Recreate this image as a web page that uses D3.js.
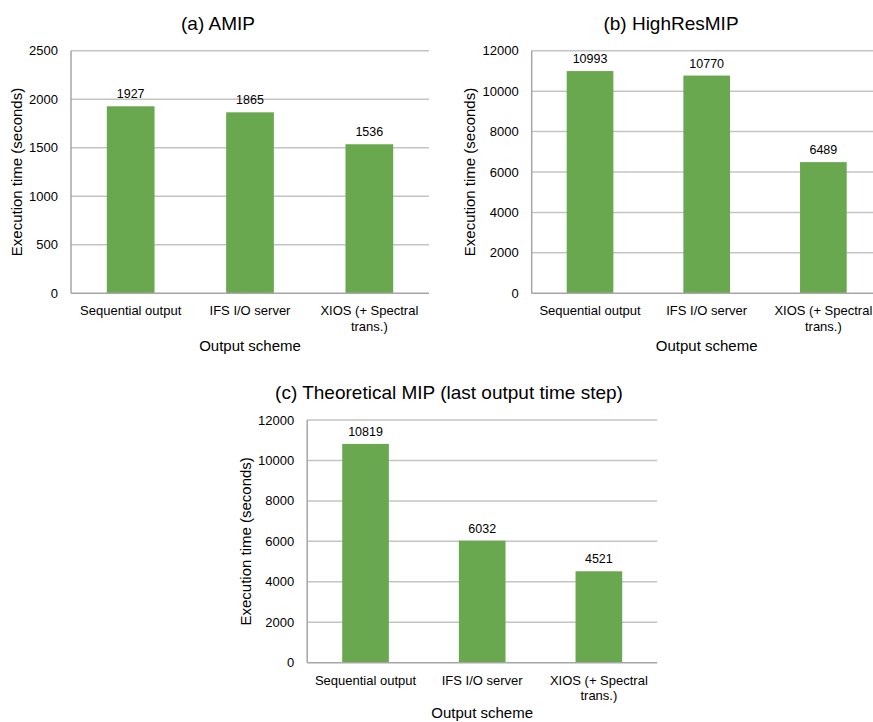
<!DOCTYPE html>
<html>
<head>
<meta charset="utf-8">
<script src="https://cdn.jsdelivr.net/npm/d3@7"></script>
<style>
  html, body { margin: 0; padding: 0; background: #fff; }
  svg { display: block; font-family: "Liberation Sans", Arial, sans-serif; }
</style>
</head>
<body>
<svg id="chart" width="873" height="722"></svg>
<script>
const categories = ["Sequential output", "IFS I/O server", "XIOS (+ Spectral trans.)"];
const categoryLines = [["Sequential output"], ["IFS I/O server"], ["XIOS (+ Spectral", "trans.)"]];

const amipValues = [1927, 1865, 1536];
const amipTicks = [0, 500, 1000, 1500, 2000, 2500];

const highResValues = [10993, 10770, 6489];
const highResTicks = [0, 2000, 4000, 6000, 8000, 10000, 12000];

const theoValues = [10819, 6032, 4521];
const theoTicks = [0, 2000, 4000, 6000, 8000, 10000, 12000];

const titles = ["(a) AMIP", "(b) HighResMIP", "(c) Theoretical MIP (last output time step)"];
const yTitle = "Execution time (seconds)";
const xTitle = "Output scheme";

const svg = d3.select("#chart");

const panels = [
  { values: amipValues, ticks: amipTicks, title: titles[0],
    left: 71, right: 429, top: 50.7, bottom: 293.3, titleX: 218, titleY: 30, yTitleX: 17, xTitleDy: 58 },
  { values: highResValues, ticks: highResTicks, title: titles[1],
    left: 531.7, right: 881.7, top: 50.7, bottom: 293.3, titleX: 671, titleY: 30, yTitleX: 470, xTitleDy: 58 },
  { values: theoValues, ticks: theoTicks, title: titles[2],
    left: 307.2, right: 657.2, top: 420, bottom: 662.7, titleX: 449, titleY: 399, yTitleX: 246, xTitleDy: 55 }
];

panels.forEach(p => {
  const g = svg.append("g");
  const x = d3.scaleBand().domain(categories).range([p.left, p.right]).paddingInner(0.6).paddingOuter(0.3);
  const y = d3.scaleLinear().domain([0, d3.max(p.ticks)]).range([p.bottom, p.top]);

  // gridlines
  g.append("g").selectAll("line").data(p.ticks.slice(1)).join("line")
    .attr("x1", p.left).attr("x2", p.right)
    .attr("y1", d => y(d)).attr("y2", d => y(d))
    .attr("stroke", "#c4c4c4").attr("stroke-width", 1.5);

  // bars
  g.append("g").selectAll("rect").data(p.values).join("rect")
    .attr("x", (d, i) => x(categories[i]))
    .attr("width", x.bandwidth())
    .attr("y", d => y(d))
    .attr("height", d => p.bottom - y(d))
    .attr("fill", "#6aa84f");

  // value labels
  g.append("g").selectAll("text").data(p.values).join("text")
    .attr("x", (d, i) => x(categories[i]) + x.bandwidth() / 2)
    .attr("y", d => y(d) - 8)
    .attr("text-anchor", "middle")
    .attr("font-size", 12.5)
    .attr("fill", "#000")
    .text(d => d);

  // axes lines
  g.append("line").attr("x1", p.left).attr("x2", p.left).attr("y1", p.top).attr("y2", p.bottom)
    .attr("stroke", "#a6a6a6").attr("stroke-width", 1.5);
  g.append("line").attr("x1", p.left).attr("x2", p.right).attr("y1", p.bottom).attr("y2", p.bottom)
    .attr("stroke", "#a6a6a6").attr("stroke-width", 1.5);

  // y tick labels
  g.append("g").selectAll("text").data(p.ticks).join("text")
    .attr("x", p.left - 13)
    .attr("y", d => y(d))
    .attr("dy", "0.35em")
    .attr("text-anchor", "end")
    .attr("font-size", 13)
    .attr("fill", "#000")
    .text(d => d);

  // x tick labels
  const xl = g.append("g").selectAll("text").data(categories).join("text")
    .attr("text-anchor", "middle")
    .attr("font-size", 13)
    .attr("fill", "#000")
    .attr("x", d => x(d) + x.bandwidth() / 2)
    .attr("y", p.bottom + 22);
  xl.each(function(d, i) {
    d3.select(this).selectAll("tspan").data(categoryLines[i]).join("tspan")
      .attr("x", x(d) + x.bandwidth() / 2)
      .attr("dy", (t, j) => j === 0 ? 0 : 15.5)
      .text(t => t);
  });

  // axis titles
  g.append("text")
    .attr("transform", `translate(${p.yTitleX},${(p.top + p.bottom) / 2}) rotate(-90)`)
    .attr("text-anchor", "middle").attr("dy", "0.35em")
    .attr("font-size", 15).attr("fill", "#000")
    .text(yTitle);
  g.append("text")
    .attr("x", (p.left + p.right) / 2).attr("y", p.bottom + p.xTitleDy)
    .attr("text-anchor", "middle")
    .attr("font-size", 15).attr("fill", "#000")
    .text(xTitle);

  // title
  g.append("text")
    .attr("x", p.titleX).attr("y", p.titleY)
    .attr("text-anchor", "middle")
    .attr("font-size", 19).attr("fill", "#000")
    .text(p.title);
});
</script>
</body>
</html>
